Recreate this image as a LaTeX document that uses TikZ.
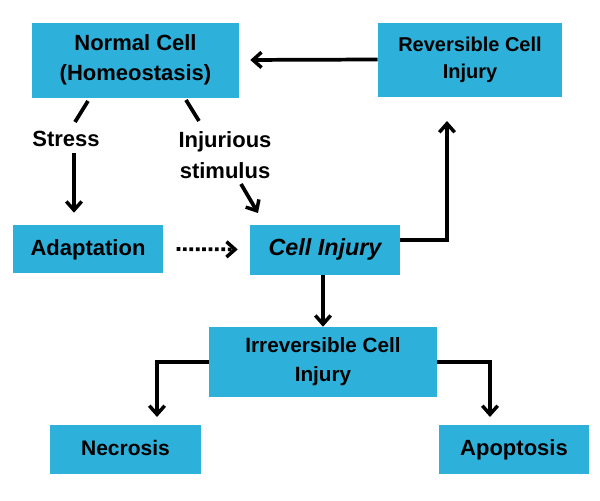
\documentclass[tikz,border=0pt]{standalone}
\usepackage{fontspec}
\setmainfont{Liberation Sans}
\usetikzlibrary{arrows.meta,calc}
\definecolor{boxblue}{HTML}{2DB1DB}
\tikzset{
  px/.style={x=0.75pt,y=-0.75pt},
  box/.style={fill=boxblue,draw=none,inner sep=0pt,align=center,font=\bfseries},
  one/.style={text height=0.92em,text depth=0pt},
  lbl/.style={inner sep=0pt,align=center,font=\bfseries\fontsize{16.5}{23}\selectfont},
  tip/.tip={Straight Barb[length=6.5pt,width=11.5pt,line width=2.6pt]},
  conn/.style={line width=2.8pt,-tip},
  plain/.style={line width=2.8pt},
}
\begin{document}
\begin{tikzpicture}[px]
\useasboundingbox (0,0) rectangle (600,500);
\node[box,minimum width=155.25pt,minimum height=56.25pt,font=\bfseries\fontsize{16.5}{22.5}\selectfont] (normal) at (135.5,60) {Normal Cell\\(Homeostasis)};
\node[box,minimum width=138pt,minimum height=55.5pt,font=\bfseries\fontsize{15}{20.25}\selectfont] (rev) at (470,59.5) {Reversible Cell\\Injury};
\node[box,one,minimum width=112.5pt,minimum height=36pt,font=\bfseries\fontsize{16.5}{20}\selectfont] (adapt) at (88,249) {Adaptation};
\node[box,one,minimum width=112.5pt,minimum height=37.5pt,font=\bfseries\itshape\fontsize{17.5}{20}\selectfont] (injury) at (325,249.5) {Cell Injury};
\node[box,minimum width=171pt,minimum height=52.5pt,font=\bfseries\fontsize{15.5}{21.75}\selectfont] (irrev) at (323,362) {Irreversible Cell\\Injury};
\node[box,one,minimum width=113.25pt,minimum height=36.75pt,font=\bfseries\fontsize{15.75}{20}\selectfont] (necro) at (125.5,449.5) {Necrosis};
\node[box,one,minimum width=112.5pt,minimum height=36.75pt,font=\bfseries\fontsize{16.5}{20}\selectfont] (apop) at (514,449.5) {Apoptosis};
\node[lbl] (stress) at (66,139) {Stress};
\node[lbl] (injur) at (225,155) {Injurious\\stimulus};
% coordinates for connector ends
\coordinate (s1) at (88,101);
\coordinate (s2) at (75,122);
\coordinate (s3) at (74,153);
\coordinate (i1) at (186,100);
\coordinate (i2) at (199,121);
\coordinate (i3) at (241,184);
\coordinate (revin) at (447,121);
\coordinate (necin) at (157,417);
\coordinate (apin) at (490,417);
% connectors
\draw[conn,shorten >=8.25pt] (rev.west) -- (normal.east);
\draw[plain] (s1) -- (s2);
\draw[conn,shorten >=9pt] (s3) -- (s3 |- adapt.north);
\draw[plain] (i1) -- (i2);
\draw[conn] (i3) -- (258,213);
\draw[line width=2.8pt,dotted,-tip,shorten <=10pt,shorten >=9pt] (adapt.east) -- (injury.west);
\draw[conn] (injury.east |- 0,240) -| (revin);
\draw[conn] (injury.south -| 323,0) -- (irrev.north -| 323,0);
\draw[conn] (irrev.west |- 0,362) -| (necin);
\draw[conn] (irrev.east |- 0,362) -| (apin);
\end{tikzpicture}
\end{document}
